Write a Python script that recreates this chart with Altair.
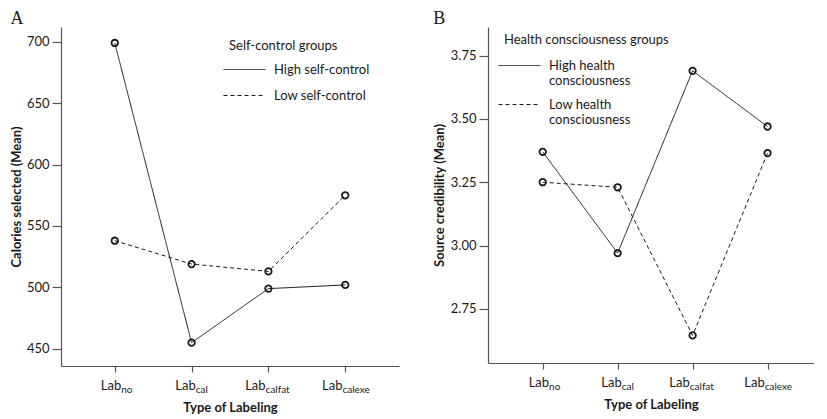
import altair as alt
import pandas as pd

# ---------------- data ----------------
subs = ["no", "cal", "calfat", "calexe"]
a_high = [699, 455, 499, 502]
a_low = [538, 519, 513, 575]
b_high = [3.37, 2.97, 3.69, 3.47]
b_low = [3.25, 3.23, 2.645, 3.365]
a_groups = ["High self-control", "Low self-control"]
b_groups = ["High health consciousness", "Low health consciousness"]
a_ticks = [450, 500, 550, 600, 650, 700]
b_ticks = [2.75, 3.00, 3.25, 3.50, 3.75]

FONT = "Lato"
INK = "#1a1a1a"
AXC = "#555555"


def long_df(high, low, groups):
    rows = []
    for g, vals in zip(groups, [high, low]):
        for i, (s, v) in enumerate(zip(subs, vals)):
            rows.append({"idx": i, "sub": s, "value": v, "group": g})
    return pd.DataFrame(rows)


def panel(high, low, groups, legtitle, ytitle, ydomain, yticks, yfmt, W, H, xdom,
          letter, legX, legY, rowpad, titpad, ytitpad, labelExpr=None):
    df = long_df(high, low, groups)
    cats = pd.DataFrame({"idx": list(range(len(subs))), "sub": subs})
    step = W / (xdom[1] - xdom[0])

    xscale = alt.Scale(domain=xdom, nice=False, zero=False)
    yscale = alt.Scale(domain=ydomain, nice=False, zero=False)
    xaxis = alt.Axis(values=[0, 1, 2, 3], labels=False, tickSize=6,
                     title="Type of Labeling", titlePadding=29, grid=False)
    yaxis = alt.Axis(values=yticks, format=yfmt, title=ytitle, grid=False,
                     tickSize=9, labelPadding=3, titlePadding=ytitpad)

    leg_kw = dict(orient="none", legendX=legX, legendY=legY,
                  title=legtitle, titleFontWeight="normal", titleFontSize=13,
                  titleFont=FONT, titleColor=INK, titlePadding=titpad,
                  symbolType="M-7,0H7", symbolSize=36, symbolOffset=9,
                  symbolStrokeWidth=1, symbolStrokeColor=INK,
                  labelFontSize=13, labelFont=FONT, labelColor=INK,
                  labelBaseline="middle", labelOffset=23, rowPadding=rowpad)
    if labelExpr:
        leg_kw["labelExpr"] = labelExpr

    lines = alt.Chart(df).mark_line(color=INK, strokeWidth=1).encode(
        x=alt.X("idx:Q", scale=xscale, axis=xaxis),
        y=alt.Y("value:Q", scale=yscale, axis=yaxis),
        strokeDash=alt.StrokeDash(
            "group:N",
            scale=alt.Scale(domain=groups, range=[[1, 0], [4, 3]]),
            legend=alt.Legend(**leg_kw),
        ),
        detail="group:N",
    )
    pts = alt.Chart(df).mark_point(shape="circle", filled=False, color=INK,
                                   size=42, strokeWidth=1.8, opacity=1).encode(
        x=alt.X("idx:Q", scale=xscale, title="Type of Labeling"),
        y=alt.Y("value:Q", scale=yscale, title=ytitle),
    )
    base = alt.Chart(cats).transform_calculate(
        xl=f"datum.idx + (22 - 4.6*length(datum.sub))/2/{step}"
    )
    lab = base.mark_text(align="right", baseline="middle", fontSize=13,
                         font=FONT, color=INK).encode(
        x=alt.X("xl:Q", scale=xscale, title="Type of Labeling"),
        y=alt.value(H + 20),
        text=alt.value("Lab"),
    )
    sub = base.mark_text(align="left", baseline="middle", fontSize=10,
                         font=FONT, color=INK, dy=4).encode(
        x=alt.X("xl:Q", scale=xscale, title="Type of Labeling"),
        y=alt.value(H + 20),
        text="sub:N",
    )
    return alt.layer(lines, pts, lab, sub).properties(
        width=W, height=H,
        title=alt.TitleParams(letter, anchor="start", frame="bounds",
                              font="Liberation Serif", fontSize=18,
                              fontWeight="normal", color=INK, offset=-1),
    )


A = panel(a_high, a_low, a_groups, "Self-control groups",
          "Calories selected (Mean)", [436, 712],
          a_ticks, "d", 338, 339, [-0.7, 3.7], "A", 168, 13, 12, 10, 3)
B = panel(b_high, b_low, b_groups, "Health consciousness groups",
          "Source credibility (Mean)", [2.536, 3.863],
          b_ticks, ".2f", 326, 336, [-0.73, 3.62], "B", 16, 7, 10, 12, 4,
          labelExpr="[replace(datum.label, ' consciousness', ''), 'consciousness']")

chart = alt.hconcat(A, B, spacing=34).resolve_scale(
    strokeDash="independent", x="independent", y="independent"
).resolve_legend(strokeDash="independent").properties(
    padding={"left": 2, "top": 2, "right": 0, "bottom": 0}
).configure(font=FONT).configure_view(stroke=None).configure_axis(
    domainColor=AXC, tickColor=AXC, domainWidth=1.2, tickWidth=1.2,
    labelFont=FONT, labelFontSize=13, labelColor=INK,
    titleFont=FONT, titleFontSize=13, titleFontWeight="bold", titleColor=INK,
)

chart.save("out.html", embed_options={"renderer": "svg", "actions": False})
